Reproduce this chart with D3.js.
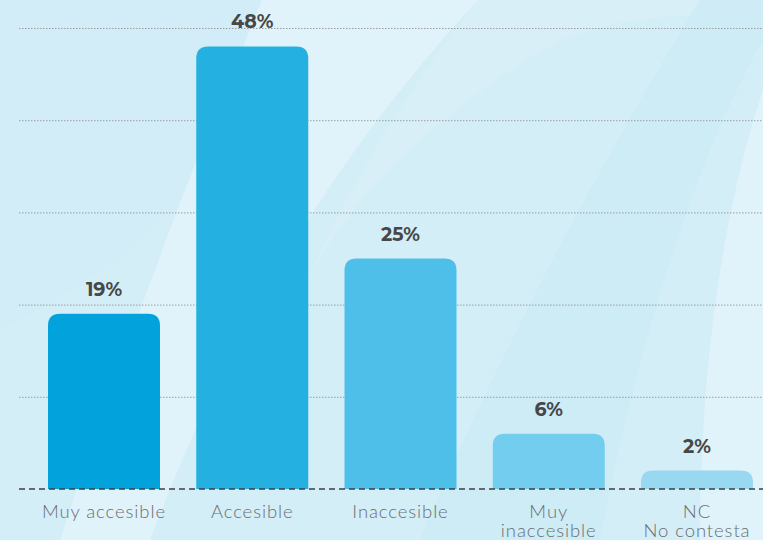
<!DOCTYPE html>
<html>
<head>
<meta charset="utf-8">
<script src="https://cdn.jsdelivr.net/npm/d3@7/dist/d3.min.js"></script>
<style>
html,body{margin:0;padding:0;background:#d4eef8;}
svg{display:block;}
</style>
</head>
<body>
<script>
const categories = ["Muy accesible", "Accesible", "Inaccesible", "Muy inaccesible", "NC No contesta"];
const categoryLines = [["Muy accesible"], ["Accesible"], ["Inaccesible"], ["Muy", "inaccesible"], ["NC", "No contesta"]];
const values = [19, 48, 25, 6, 2];
const valueLabels = ["19%", "48%", "25%", "6%", "2%"];
const gridTicks = [10, 20, 30, 40, 50];
const palette = ["#02a2dd", "#25b0e2", "#4ebfe9", "#73cdee", "#98d9f1"];

const W = 763, H = 540;
const svg = d3.select("body").append("svg").attr("width", W).attr("height", H);

// background
svg.append("rect").attr("width", W).attr("height", H).attr("fill", "#d4eef8");
const bg = svg.append("g");
bg.append("path").attr("d", "M262,0 C220,100 150,270 60,540 L150,540 C230,330 330,160 478,0 Z").attr("fill", "#ffffff").attr("opacity", 0.3);
bg.append("path").attr("d", "M478,0 C400,100 340,200 300,300 C330,220 420,120 560,40 C640,10 720,10 763,30 L763,0 Z").attr("fill", "#ffffff").attr("opacity", 0.1);
bg.append("path").attr("d", "M420,540 C470,420 560,230 700,0 L763,0 L763,40 C700,150 640,330 600,540 Z").attr("fill", "#c6e8f5").attr("opacity", 0.45);
bg.append("path").attr("d", "M763,90 C720,220 700,380 700,540 L763,540 Z").attr("fill", "#ffffff").attr("opacity", 0.3);
bg.append("path").attr("d", "M0,0 L262,0 C230,80 200,150 180,200 C120,260 60,300 0,330 Z").attr("fill", "#d0ecf7").attr("opacity", 0.5);

const x = d3.scaleBand().domain(categories).range([48, 753]).paddingInner(36.25 / 148.25).paddingOuter(0);
const y = d3.scaleLinear().domain([0, 50]).range([489, 28]);

// gridlines
const grid = svg.append("g")
  .attr("transform", "translate(19,0)")
  .call(d3.axisLeft(y).tickValues(gridTicks).tickSize(-(W - 19)).tickFormat(""));
grid.select(".domain").remove();
grid.selectAll(".tick line").attr("stroke", "#9a9ea2").attr("stroke-width", 1).attr("stroke-dasharray", "1.5,1.5");

// bars with rounded top corners
const r = 12;
function barPath(x0, w, yTop, yBase) {
  const rr = Math.min(r, (yBase - yTop), w / 2);
  return `M${x0},${yBase} L${x0},${yTop + rr} Q${x0},${yTop} ${x0 + rr},${yTop} L${x0 + w - rr},${yTop} Q${x0 + w},${yTop} ${x0 + w},${yTop + rr} L${x0 + w},${yBase} Z`;
}
svg.append("g").selectAll("path").data(categories).join("path")
  .attr("d", (c, i) => barPath(x(c), x.bandwidth(), y(values[i]), y(0)))
  .attr("fill", (c, i) => palette[i]);

// value labels
svg.append("g").selectAll("text").data(categories).join("text")
  .attr("x", c => x(c) + x.bandwidth() / 2)
  .attr("y", (c, i) => y(values[i]) - 18)
  .attr("text-anchor", "middle")
  .attr("font-family", "Montserrat, 'Open Sans', Lato, sans-serif")
  .attr("font-weight", 700)
  .attr("font-size", 19)
  .attr("fill", "#474747")
  .text((c, i) => valueLabels[i]);

// baseline (dashed x-axis)
const xAxis = svg.append("g").attr("transform", `translate(0,${y(0)})`)
  .call(d3.axisBottom(x).tickSize(0).tickFormat(""));
xAxis.select(".domain").attr("d", `M19,0H${W}`).attr("stroke", "#3d3f41").attr("stroke-width", 1.3).attr("stroke-dasharray", "6,4");

// category labels (one text per line)
const labG = svg.append("g");
categories.forEach((c, i) => {
  categoryLines[i].forEach((ln, j) => {
    labG.append("text")
      .attr("x", x(c) + x.bandwidth() / 2)
      .attr("y", 518 + j * 19)
      .attr("text-anchor", "middle")
      .attr("font-family", "Lato, 'Open Sans', sans-serif")
      .attr("font-weight", 300)
      .attr("font-size", 18.5)
      .attr("letter-spacing", 0.9)
      .attr("fill", "#6a6d70")
      .text(ln);
  });
});
</script>
</body>
</html>
